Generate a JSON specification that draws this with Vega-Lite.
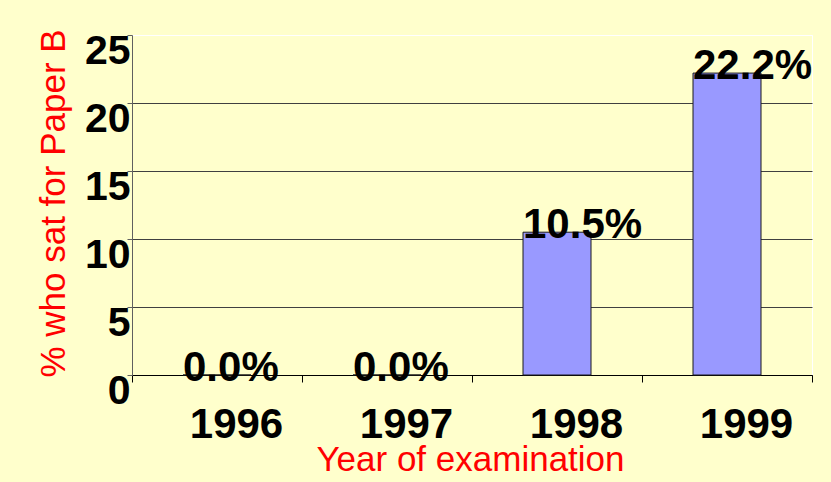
{
  "$schema": "https://vega.github.io/schema/vega-lite/v6.json",
  "width": 680,
  "height": 340,
  "autosize": {"type": "none"},
  "padding": {"left": 132, "top": 35, "right": 19, "bottom": 107},
  "background": "#FFFFCC",
  "config": {
    "view": {"stroke": "white", "strokeWidth": 1},
    "font": "Liberation Sans"
  },
  "data": {
    "values": [
      {"year": "1996", "pct": 0.0, "label": "0.0%"},
      {"year": "1997", "pct": 0.0, "label": "0.0%"},
      {"year": "1998", "pct": 10.5, "label": "10.5%"},
      {"year": "1999", "pct": 22.2, "label": "22.2%"}
    ]
  },
  "encoding": {
    "x": {
      "field": "year",
      "type": "ordinal",
      "scale": {"paddingInner": 0, "paddingOuter": 0},
      "axis": {
        "title": "Year of examination",
        "titleFont": "Liberation Sans",
        "titleFontSize": 35,
        "titleFontWeight": "normal",
        "titleColor": "#FF0000",
        "titleX": 338,
        "titleY": 95,
        "titleAnchor": "middle",
        "titleAlign": "center",
        "titleBaseline": "alphabetic",
        "labelAngle": 0,
        "labelFont": "Liberation Sans",
        "labelFontSize": 42,
        "labelFontWeight": "bold",
        "labelColor": "black",
        "labelBaseline": "alphabetic",
        "labelPadding": 55,
        "labelOffset": 19,
        "tickBand": "extent",
        "tickSize": 7,
        "tickColor": "black",
        "domainColor": "black",
        "grid": false
      }
    }
  },
  "layer": [
    {
      "mark": {"type": "bar", "width": {"band": 0.4}, "fill": "#9999FF", "stroke": "#1a1a1a", "strokeWidth": 1},
      "encoding": {
        "y": {
          "field": "pct",
          "type": "quantitative",
          "scale": {"domain": [0, 25], "nice": false},
          "axis": {
            "title": "% who sat for Paper B",
            "titleFont": "Liberation Sans",
            "titleFontSize": 35,
            "titleFontWeight": "normal",
            "titleColor": "#FF0000",
            "titleAngle": -90,
            "titleX": -68,
            "titleY": 168,
            "titleAlign": "center",
            "titleBaseline": "alphabetic",
            "values": [0, 5, 10, 15, 20, 25],
            "labelFont": "Liberation Sans",
            "labelFontSize": 41,
            "labelFontWeight": "bold",
            "labelColor": "black",
            "labelBaseline": "alphabetic",
            "labelOffset": 28,
            "labelPadding": -3,
            "tickSize": 5,
            "tickColor": "#606060",
            "domainColor": "#606060",
            "grid": true,
            "gridColor": {"condition": {"test": "datum.value == 25", "value": "white"}, "value": "#404040"},
            "gridOpacity": 1
          }
        }
      }
    },
    {
      "mark": {"type": "text", "align": "left", "baseline": "alphabetic", "dy": 6, "font": "Liberation Sans", "fontSize": 42, "fontWeight": "bold", "color": "black"},
      "encoding": {
        "x": {"field": "year", "type": "ordinal", "bandPosition": 0.3},
        "y": {"field": "pct", "type": "quantitative"},
        "text": {"field": "label"}
      }
    }
  ]
}
